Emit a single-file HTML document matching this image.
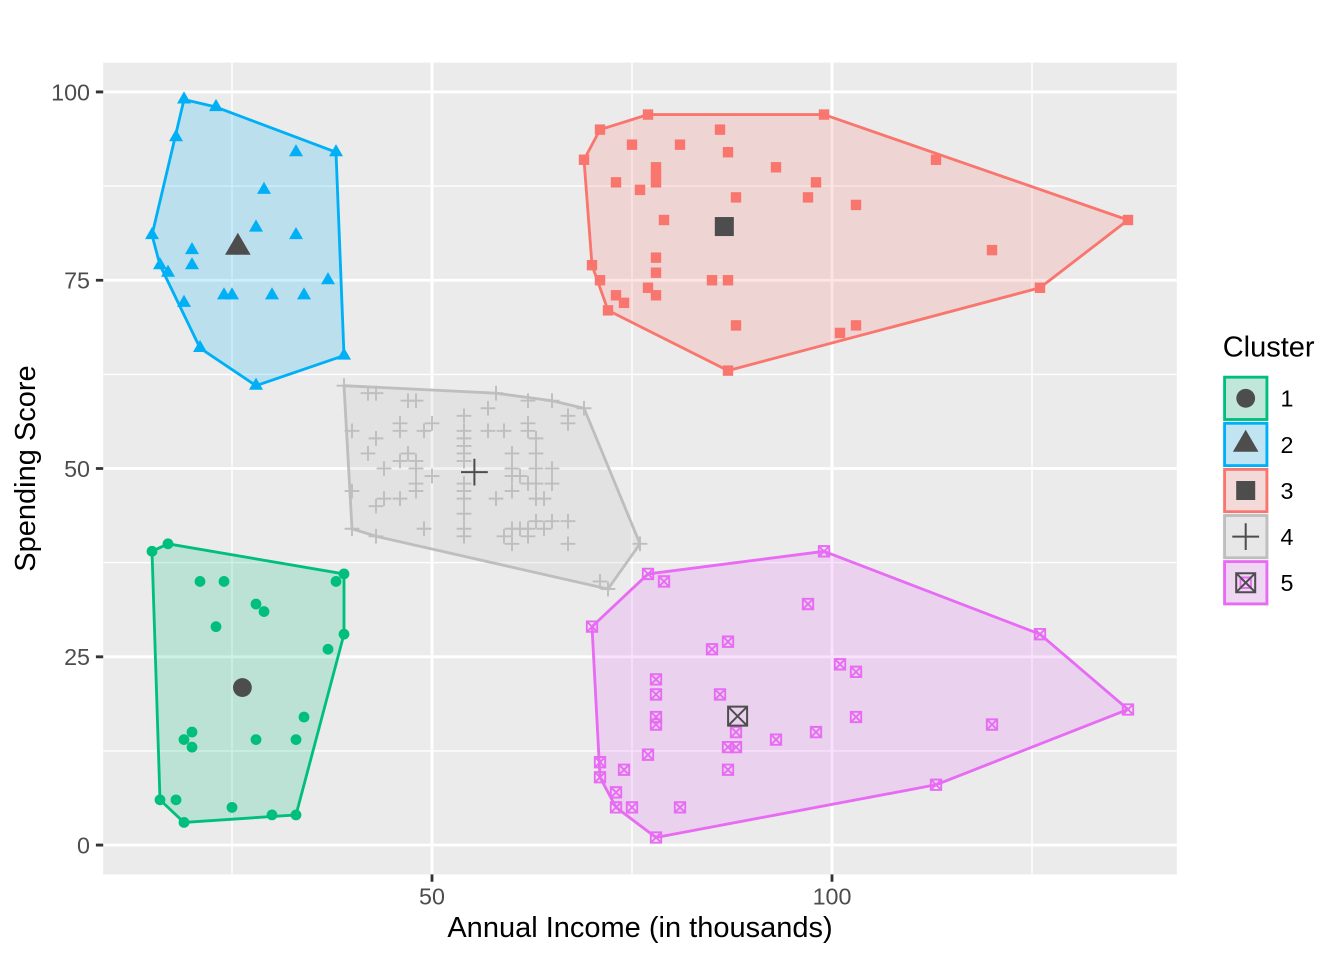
<!DOCTYPE html>
<html><head><meta charset="utf-8"><style>html,body{margin:0;padding:0;background:#fff}svg{display:block}text{font-family:"Liberation Sans",Arial,sans-serif}</style></head><body>
<svg width="1344" height="960" viewBox="0 0 1344 960" xmlns="http://www.w3.org/2000/svg">
<defs>
<g id="c" transform="scale(.125 -.132791)"><circle r="5.4" fill="#00BF7D"/></g>
<g id="t" transform="scale(.125 -.132791)"><path d="M0,-8.1L7,4.05L-7,4.05Z" fill="#00B0F6"/></g>
<g id="s" transform="scale(.125 -.132791)"><rect x="-5.2" y="-5.2" width="10.4" height="10.4" fill="#F8766D"/></g>
<g id="p" transform="scale(.125 -.132791)"><path d="M-7.4,0H7.4M0,-7.4V7.4" stroke="#BEBEBE" stroke-width="1.9" fill="none"/></g>
<g id="x" transform="scale(.125 -.132791)"><path d="M-5.2,-5.2H5.2V5.2H-5.2ZM-5.2,-5.2L5.2,5.2M5.2,-5.2L-5.2,5.2" stroke="#E76BF3" stroke-width="1.9" fill="none"/></g>
<g id="C" transform="scale(.125 -.132791)"><circle r="9.4" fill="#4D4D4D"/></g>
<g id="T" transform="scale(.125 -.132791)"><path d="M0,-14.7L12.8,7.4L-12.8,7.4Z" fill="#4D4D4D"/></g>
<g id="S" transform="scale(.125 -.132791)"><rect x="-9.5" y="-9.5" width="19" height="19" fill="#4D4D4D"/></g>
<g id="P" transform="scale(.125 -.132791)"><path d="M-13.4,0H13.4M0,-13.4V13.4" stroke="#4D4D4D" stroke-width="2" fill="none"/></g>
<g id="X" transform="scale(.125 -.132791)"><path d="M-9.5,-9.5H9.5V9.5H-9.5ZM-9.5,-9.5L9.5,9.5M9.5,-9.5L-9.5,9.5" stroke="#4D4D4D" stroke-width="2" fill="none"/></g>
</defs>
<rect x="0" y="0" width="1344" height="960" fill="#fff"/>
<rect x="103.2" y="62.6" width="1073.6" height="811.8" fill="#EBEBEB"/>
<path d="M232,62.6V874.4M632,62.6V874.4M1032,62.6V874.4M103.2,750.9H1176.8M103.2,562.6H1176.8M103.2,374.4H1176.8M103.2,186.1H1176.8" stroke="#fff" stroke-width="1.42" fill="none"/>
<path d="M432,62.6V874.4M832,62.6V874.4M103.2,845.03H1176.8M103.2,656.77H1176.8M103.2,468.5H1176.8M103.2,280.24H1176.8M103.2,91.97H1176.8" stroke="#fff" stroke-width="2.84" fill="none"/>
<g stroke-width="2.84" stroke-linejoin="round">
<polygon points="152,235.05 160,265.17 200,348.01 256,385.66 344,355.54 336,152.21 216,107.03 184,99.5" fill="#00B0F6" fill-opacity="0.2" stroke="#00B0F6"/>
<polygon points="152,551.34 160,799.85 184,822.44 296,814.91 344,634.17 344,573.93 168,543.81" fill="#00BF7D" fill-opacity="0.2" stroke="#00BF7D"/>
<polygon points="584,159.75 592,265.17 608,310.36 728,370.6 1040,287.77 1128,219.99 824,114.56 648,114.56 600,129.62" fill="#F8766D" fill-opacity="0.2" stroke="#F8766D"/>
<polygon points="592,626.64 600,777.25 616,807.38 656,837.5 936,784.79 1128,709.48 1040,634.17 824,551.34 648,573.93" fill="#E76BF3" fill-opacity="0.2" stroke="#E76BF3"/>
<polygon points="344,385.66 352,528.74 376,536.28 608,588.99 640,543.81 584,408.26 552,400.72 496,393.19" fill="#BEBEBE" fill-opacity="0.2" stroke="#BEBEBE"/>
</g>
<g transform="matrix(8,0,0,-7.5306,32,845.03)">
<g id="green">
<use href="#c" x="15" y="39"/><use href="#c" x="16" y="6"/><use href="#c" x="17" y="40"/><use href="#c" x="18" y="6"/><use href="#c" x="19" y="3"/><use href="#c" x="19" y="14"/><use href="#c" x="20" y="15"/><use href="#c" x="20" y="13"/><use href="#c" x="21" y="35"/><use href="#c" x="23" y="29"/><use href="#c" x="24" y="35"/><use href="#c" x="25" y="5"/>
<use href="#c" x="28" y="14"/><use href="#c" x="28" y="32"/><use href="#c" x="29" y="31"/><use href="#c" x="30" y="4"/><use href="#c" x="33" y="4"/><use href="#c" x="33" y="14"/><use href="#c" x="34" y="17"/><use href="#c" x="37" y="26"/><use href="#c" x="38" y="35"/><use href="#c" x="39" y="36"/><use href="#c" x="39" y="28"/>
</g>
<g id="blue">
<use href="#t" x="15" y="81"/><use href="#t" x="16" y="77"/><use href="#t" x="17" y="76"/><use href="#t" x="18" y="94"/><use href="#t" x="19" y="72"/><use href="#t" x="19" y="99"/><use href="#t" x="20" y="77"/><use href="#t" x="20" y="79"/><use href="#t" x="21" y="66"/><use href="#t" x="23" y="98"/><use href="#t" x="24" y="73"/>
<use href="#t" x="25" y="73"/><use href="#t" x="28" y="82"/><use href="#t" x="28" y="61"/><use href="#t" x="29" y="87"/><use href="#t" x="30" y="73"/><use href="#t" x="33" y="92"/><use href="#t" x="33" y="81"/><use href="#t" x="34" y="73"/><use href="#t" x="37" y="75"/><use href="#t" x="38" y="92"/><use href="#t" x="39" y="65"/>
</g>
<g id="grey">
<use href="#p" x="39" y="61"/><use href="#p" x="40" y="55"/><use href="#p" x="40" y="47"/><use href="#p" x="40" y="42"/><use href="#p" x="42" y="52"/><use href="#p" x="42" y="60"/><use href="#p" x="43" y="54"/><use href="#p" x="43" y="60"/><use href="#p" x="43" y="45"/><use href="#p" x="43" y="41"/>
<use href="#p" x="44" y="50"/><use href="#p" x="44" y="46"/><use href="#p" x="46" y="51"/><use href="#p" x="46" y="46"/><use href="#p" x="46" y="56"/><use href="#p" x="46" y="55"/><use href="#p" x="47" y="52"/><use href="#p" x="47" y="59"/><use href="#p" x="48" y="51"/><use href="#p" x="48" y="59"/>
<use href="#p" x="48" y="50"/><use href="#p" x="48" y="48"/><use href="#p" x="48" y="47"/><use href="#p" x="49" y="55"/><use href="#p" x="49" y="42"/><use href="#p" x="50" y="49"/><use href="#p" x="50" y="56"/><use href="#p" x="54" y="47"/><use href="#p" x="54" y="54"/><use href="#p" x="54" y="53"/>
<use href="#p" x="54" y="48"/><use href="#p" x="54" y="52"/><use href="#p" x="54" y="42"/><use href="#p" x="54" y="51"/><use href="#p" x="54" y="55"/><use href="#p" x="54" y="41"/><use href="#p" x="54" y="44"/><use href="#p" x="54" y="57"/><use href="#p" x="54" y="46"/><use href="#p" x="57" y="58"/>
<use href="#p" x="57" y="55"/><use href="#p" x="58" y="60"/><use href="#p" x="58" y="46"/><use href="#p" x="59" y="55"/><use href="#p" x="59" y="41"/><use href="#p" x="60" y="49"/><use href="#p" x="60" y="40"/><use href="#p" x="60" y="42"/><use href="#p" x="60" y="52"/><use href="#p" x="60" y="47"/>
<use href="#p" x="60" y="50"/><use href="#p" x="61" y="42"/><use href="#p" x="61" y="49"/><use href="#p" x="62" y="41"/><use href="#p" x="62" y="48"/><use href="#p" x="62" y="59"/><use href="#p" x="62" y="55"/><use href="#p" x="62" y="56"/><use href="#p" x="62" y="42"/><use href="#p" x="63" y="50"/>
<use href="#p" x="63" y="46"/><use href="#p" x="63" y="43"/><use href="#p" x="63" y="48"/><use href="#p" x="63" y="52"/><use href="#p" x="63" y="54"/><use href="#p" x="64" y="42"/><use href="#p" x="64" y="46"/><use href="#p" x="65" y="48"/><use href="#p" x="65" y="50"/><use href="#p" x="65" y="43"/>
<use href="#p" x="65" y="59"/><use href="#p" x="67" y="43"/><use href="#p" x="67" y="57"/><use href="#p" x="67" y="56"/><use href="#p" x="67" y="40"/><use href="#p" x="69" y="58"/><use href="#p" x="71" y="35"/><use href="#p" x="72" y="34"/><use href="#p" x="76" y="40"/>
</g>
<g id="red">
<use href="#s" x="69" y="91"/><use href="#s" x="70" y="77"/><use href="#s" x="71" y="95"/><use href="#s" x="71" y="75"/><use href="#s" x="72" y="71"/><use href="#s" x="73" y="88"/><use href="#s" x="73" y="73"/><use href="#s" x="74" y="72"/><use href="#s" x="75" y="93"/><use href="#s" x="76" y="87"/>
<use href="#s" x="77" y="97"/><use href="#s" x="77" y="74"/><use href="#s" x="78" y="90"/><use href="#s" x="78" y="88"/><use href="#s" x="78" y="76"/><use href="#s" x="78" y="89"/><use href="#s" x="78" y="78"/><use href="#s" x="78" y="73"/><use href="#s" x="79" y="83"/><use href="#s" x="81" y="93"/>
<use href="#s" x="85" y="75"/><use href="#s" x="86" y="95"/><use href="#s" x="87" y="63"/><use href="#s" x="87" y="75"/><use href="#s" x="87" y="92"/><use href="#s" x="88" y="86"/><use href="#s" x="88" y="69"/><use href="#s" x="93" y="90"/><use href="#s" x="97" y="86"/><use href="#s" x="98" y="88"/>
<use href="#s" x="99" y="97"/><use href="#s" x="101" y="68"/><use href="#s" x="103" y="85"/><use href="#s" x="103" y="69"/><use href="#s" x="113" y="91"/><use href="#s" x="120" y="79"/><use href="#s" x="126" y="74"/><use href="#s" x="137" y="83"/>
</g>
<g id="magenta">
<use href="#x" x="70" y="29"/><use href="#x" x="71" y="11"/><use href="#x" x="71" y="9"/><use href="#x" x="73" y="5"/><use href="#x" x="73" y="7"/><use href="#x" x="74" y="10"/><use href="#x" x="75" y="5"/><use href="#x" x="77" y="12"/><use href="#x" x="77" y="36"/><use href="#x" x="78" y="22"/>
<use href="#x" x="78" y="17"/><use href="#x" x="78" y="20"/><use href="#x" x="78" y="16"/><use href="#x" x="78" y="1"/><use href="#x" x="79" y="35"/><use href="#x" x="81" y="5"/><use href="#x" x="85" y="26"/><use href="#x" x="86" y="20"/><use href="#x" x="87" y="27"/><use href="#x" x="87" y="13"/>
<use href="#x" x="87" y="10"/><use href="#x" x="88" y="13"/><use href="#x" x="88" y="15"/><use href="#x" x="93" y="14"/><use href="#x" x="97" y="32"/><use href="#x" x="98" y="15"/><use href="#x" x="99" y="39"/><use href="#x" x="101" y="24"/><use href="#x" x="103" y="17"/><use href="#x" x="103" y="23"/>
<use href="#x" x="113" y="8"/><use href="#x" x="120" y="16"/><use href="#x" x="126" y="28"/><use href="#x" x="137" y="18"/>
</g>
<use href="#C" x="26.30" y="20.91"/>
<use href="#T" x="25.73" y="79.36"/>
<use href="#S" x="86.54" y="82.13"/>
<use href="#P" x="55.30" y="49.52"/>
<use href="#X" x="88.20" y="17.11"/>
</g>
<path d="M95.9,845.03H103.2M95.9,656.77H103.2M95.9,468.5H103.2M95.9,280.24H103.2M95.9,91.97H103.2M432,874.4V881.7M832,874.4V881.7" stroke="#333" stroke-width="2.84" fill="none"/>
<g font-size="23.3" fill="#4D4D4D" text-anchor="end">
<text x="90" y="853.4">0</text>
<text x="90" y="665.1">25</text>
<text x="90" y="476.9">50</text>
<text x="90" y="288.6">75</text>
<text x="90" y="100.3">100</text>
</g>
<g font-size="23.3" fill="#4D4D4D" text-anchor="middle">
<text x="432" y="904.5">50</text>
<text x="832" y="904.5">100</text>
</g>
<text x="640" y="937" font-size="29" fill="#000" text-anchor="middle">Annual Income (in thousands)</text>
<text transform="translate(35,468.5) rotate(-90)" font-size="29" fill="#000" text-anchor="middle">Spending Score</text>
<text x="1222.7" y="356.5" font-size="29" fill="#000">Cluster</text>
<rect x="1222.7" y="375.3" width="46.08" height="230.4" fill="#F2F2F2"/>
<path d="M1222.7,421.4H1268.8M1222.7,467.5H1268.8M1222.7,513.6H1268.8M1222.7,559.7H1268.8" stroke="#fff" stroke-width="1.4"/>
<rect x="1224.6" y="377.2" width="42.3" height="42.3" fill="#00BF7D" fill-opacity="0.2" stroke="#00BF7D" stroke-width="2.84"/>
<rect x="1224.6" y="423.3" width="42.3" height="42.3" fill="#00B0F6" fill-opacity="0.2" stroke="#00B0F6" stroke-width="2.84"/>
<rect x="1224.6" y="469.4" width="42.3" height="42.3" fill="#F8766D" fill-opacity="0.2" stroke="#F8766D" stroke-width="2.84"/>
<rect x="1224.6" y="515.5" width="42.3" height="42.3" fill="#BEBEBE" fill-opacity="0.2" stroke="#BEBEBE" stroke-width="2.84"/>
<rect x="1224.6" y="561.6" width="42.3" height="42.3" fill="#E76BF3" fill-opacity="0.2" stroke="#E76BF3" stroke-width="2.84"/>
<circle cx="1245.7" cy="398.3" r="9.4" fill="#4D4D4D"/>
<path d="M1245.7,429.7L1258.5,451.8L1232.9,451.8Z" fill="#4D4D4D"/>
<rect x="1236.2" y="481" width="19" height="19" fill="#4D4D4D"/>
<path d="M1232.3,536.6H1259.1M1245.7,523.2V550" stroke="#4D4D4D" stroke-width="2" fill="none"/>
<path d="M1240.5,577.5H1250.9V587.9H1240.5ZM1240.5,577.5L1250.9,587.9M1250.9,577.5L1240.5,587.9" stroke="#E76BF3" stroke-width="1.9" fill="none"/>
<path d="M1236.2,573.2H1255.2V592.2H1236.2ZM1236.2,573.2L1255.2,592.2M1255.2,573.2L1236.2,592.2" stroke="#4D4D4D" stroke-width="2" fill="none"/>
<g font-size="23.3" fill="#000">
<text x="1280.5" y="406.7">1</text>
<text x="1280.5" y="452.8">2</text>
<text x="1280.5" y="498.9">3</text>
<text x="1280.5" y="545">4</text>
<text x="1280.5" y="591.1">5</text>
</g>
</svg>
</body></html>
